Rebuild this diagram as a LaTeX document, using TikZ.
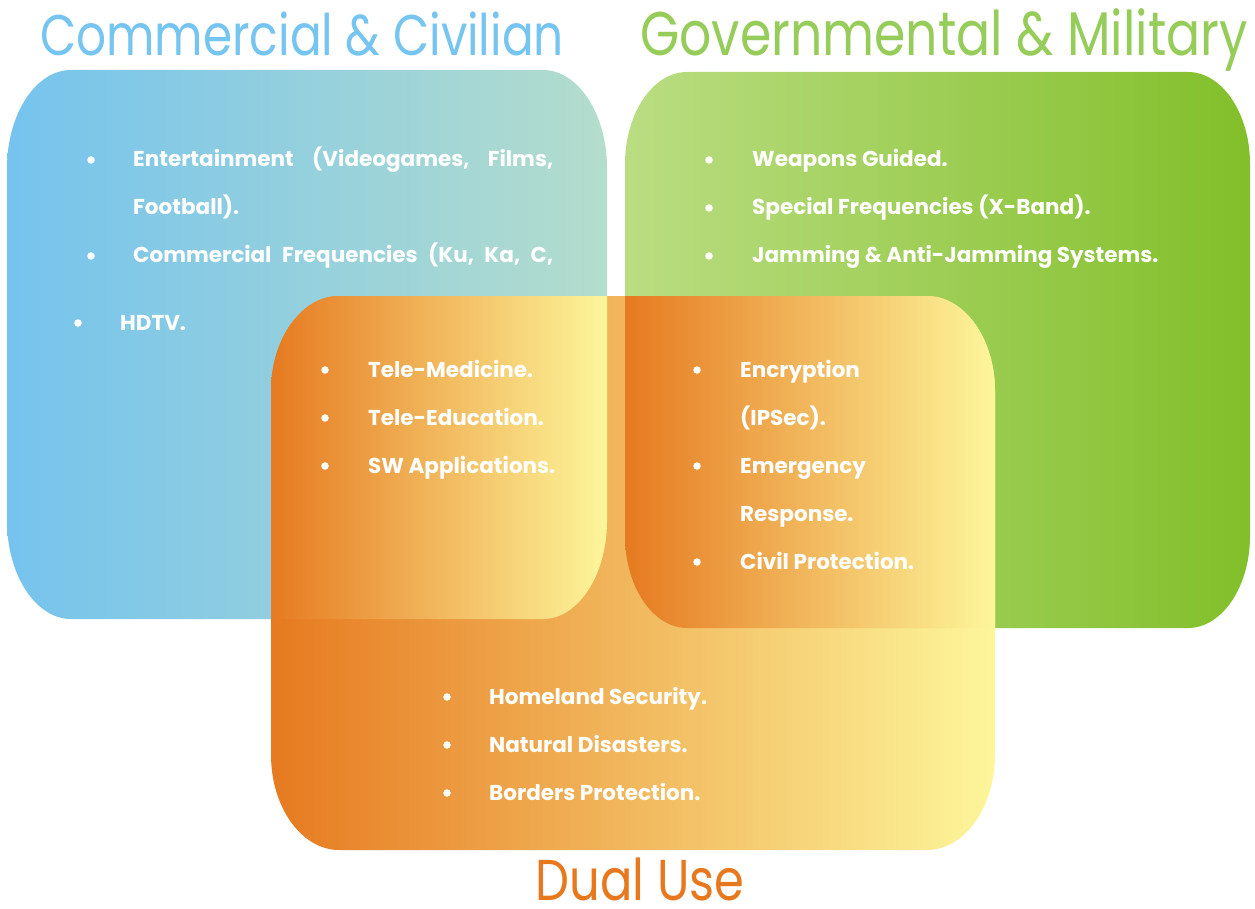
\documentclass[tikz,border=0pt]{standalone}
\usepackage{fontspec}
\setmainfont{Poppins}
\definecolor{blueL}{RGB}{117,195,238}
\definecolor{blueR}{RGB}{180,221,204}
\definecolor{greenL}{RGB}{186,221,130}
\definecolor{greenR}{RGB}{130,191,42}
\definecolor{orgL}{RGB}{230,122,32}
\definecolor{orgR}{RGB}{253,246,155}
\definecolor{titleBlue}{RGB}{118,196,240}
\definecolor{titleGreen}{RGB}{150,204,90}
\definecolor{titleOrg}{RGB}{232,120,30}
\begin{document}
\begin{tikzpicture}[x=1pt,y=-1pt,
  % rounded box with elliptical corners: x1,y1,x2,y2,rx,ry
  rbox/.style n args={6}{insert path={
    (#1+#5,#2) -- (#3-#5,#2)
    .. controls (#3-0.45*#5,#2) and (#3,#2+0.45*#6) .. (#3,#2+#6)
    -- (#3,#4-#6)
    .. controls (#3,#4-0.45*#6) and (#3-0.45*#5,#4) .. (#3-#5,#4)
    -- (#1+#5,#4)
    .. controls (#1+0.45*#5,#4) and (#1,#4-0.45*#6) .. (#1,#4-#6)
    -- (#1,#2+#6)
    .. controls (#1,#2+0.45*#6) and (#1+0.45*#5,#2) .. (#1+#5,#2) -- cycle}},
  bluebox/.style={rbox={7}{70}{607}{619}{64}{98}},
  greenbox/.style={rbox={625}{72}{1250}{628}{62}{92}},
  orangebox/.style={rbox={271}{296}{995}{850}{68}{95}},
  bul/.style={circle,fill=white,inner sep=0pt,minimum size=7.5pt},
  item/.style={anchor=base west,inner sep=0pt,text=white,
    font=\fontsize{21.5}{24}\selectfont\bfseries},
  title/.style={anchor=base,inner sep=0pt}
]
\useasboundingbox (0,0) rectangle (1255,909);

% three sets
\shade[left color=blueL,right color=blueR,bluebox];
\shade[left color=greenL,right color=greenR,greenbox];
\shade[left color=orgL,right color=orgR,orangebox];

% overlaps of Dual Use with the two other sets
\begin{scope}
  \clip[bluebox];
  \clip[orangebox];
  \shade[left color=orgL,right color=orgR] (271,290) rectangle (607,625);
\end{scope}
\begin{scope}
  \clip[greenbox];
  \clip[orangebox];
  \shade[left color=orgL,right color=orgR] (625,290) rectangle (995,632);
\end{scope}

% titles
\node[title,text=titleBlue] (tcom) at (302,56)
  {\scalebox{1}[1.22]{\fontsize{47}{50}\selectfont Commercial \& Civilian}};
\node[title,text=titleGreen] (tgov) at (944,56)
  {\scalebox{1}[1.22]{\fontsize{50.5}{54}\selectfont Governmental \& Military}};
\node[title,text=titleOrg] (tdual) at (640,900)
  {\scalebox{1}[1.2]{\fontsize{48}{52}\selectfont Dual Use}};

% Commercial & Civilian
\node[bul] (b1) at (91,160) {};
\node[item] (c1) at (133,167) {\hbox to 420pt{Entertainment\hfill(Videogames,\hfill Films,}};
\node[item] (c1b) at (133,215) {Football).};
\node[bul] (b2) at (91,256) {};
\node[item] (c2) at (133,263) {\hbox to 420pt{Commercial\hfill Frequencies\hfill (Ku,\hfill Ka,\hfill C,}};
\node[bul] (b3) at (78,323) {};
\node[item] (c3) at (120,330) {HDTV.};

% Governmental & Military
\node[bul] (g1b) at (709,160) {};
\node[item] (g1) at (752,167) {Weapons Guided.};
\node[bul] (g2b) at (709,208) {};
\node[item] (g2) at (752,215) {Special Frequencies (X-Band).};
\node[bul] (g3b) at (709,256) {};
\node[item] (g3) at (752,263) {Jamming \& Anti-Jamming Systems.};

% Commercial & Dual
\node[bul] (l1b) at (325,370) {};
\node[item] (l1) at (368,377) {Tele-Medicine.};
\node[bul] (l2b) at (325,418) {};
\node[item] (l2) at (368,425) {Tele-Education.};
\node[bul] (l3b) at (325,466) {};
\node[item] (l3) at (368,473) {SW Applications.};

% Governmental & Dual
\node[bul] (r1b) at (697,370) {};
\node[item] (r1) at (740,377) {Encryption};
\node[item] (r1c) at (740,425) {(IPSec).};
\node[bul] (r2b) at (697,466) {};
\node[item] (r2) at (740,473) {Emergency};
\node[item] (r2c) at (740,521) {Response.};
\node[bul] (r3b) at (697,562) {};
\node[item] (r3) at (740,569) {Civil Protection.};

% Dual Use
\node[bul] (d1b) at (447,697) {};
\node[item] (d1) at (489,704) {Homeland Security.};
\node[bul] (d2b) at (447,745) {};
\node[item] (d2) at (489,752) {Natural Disasters.};
\node[bul] (d3b) at (447,793) {};
\node[item] (d3) at (489,800) {Borders Protection.};
\end{tikzpicture}
\end{document}
